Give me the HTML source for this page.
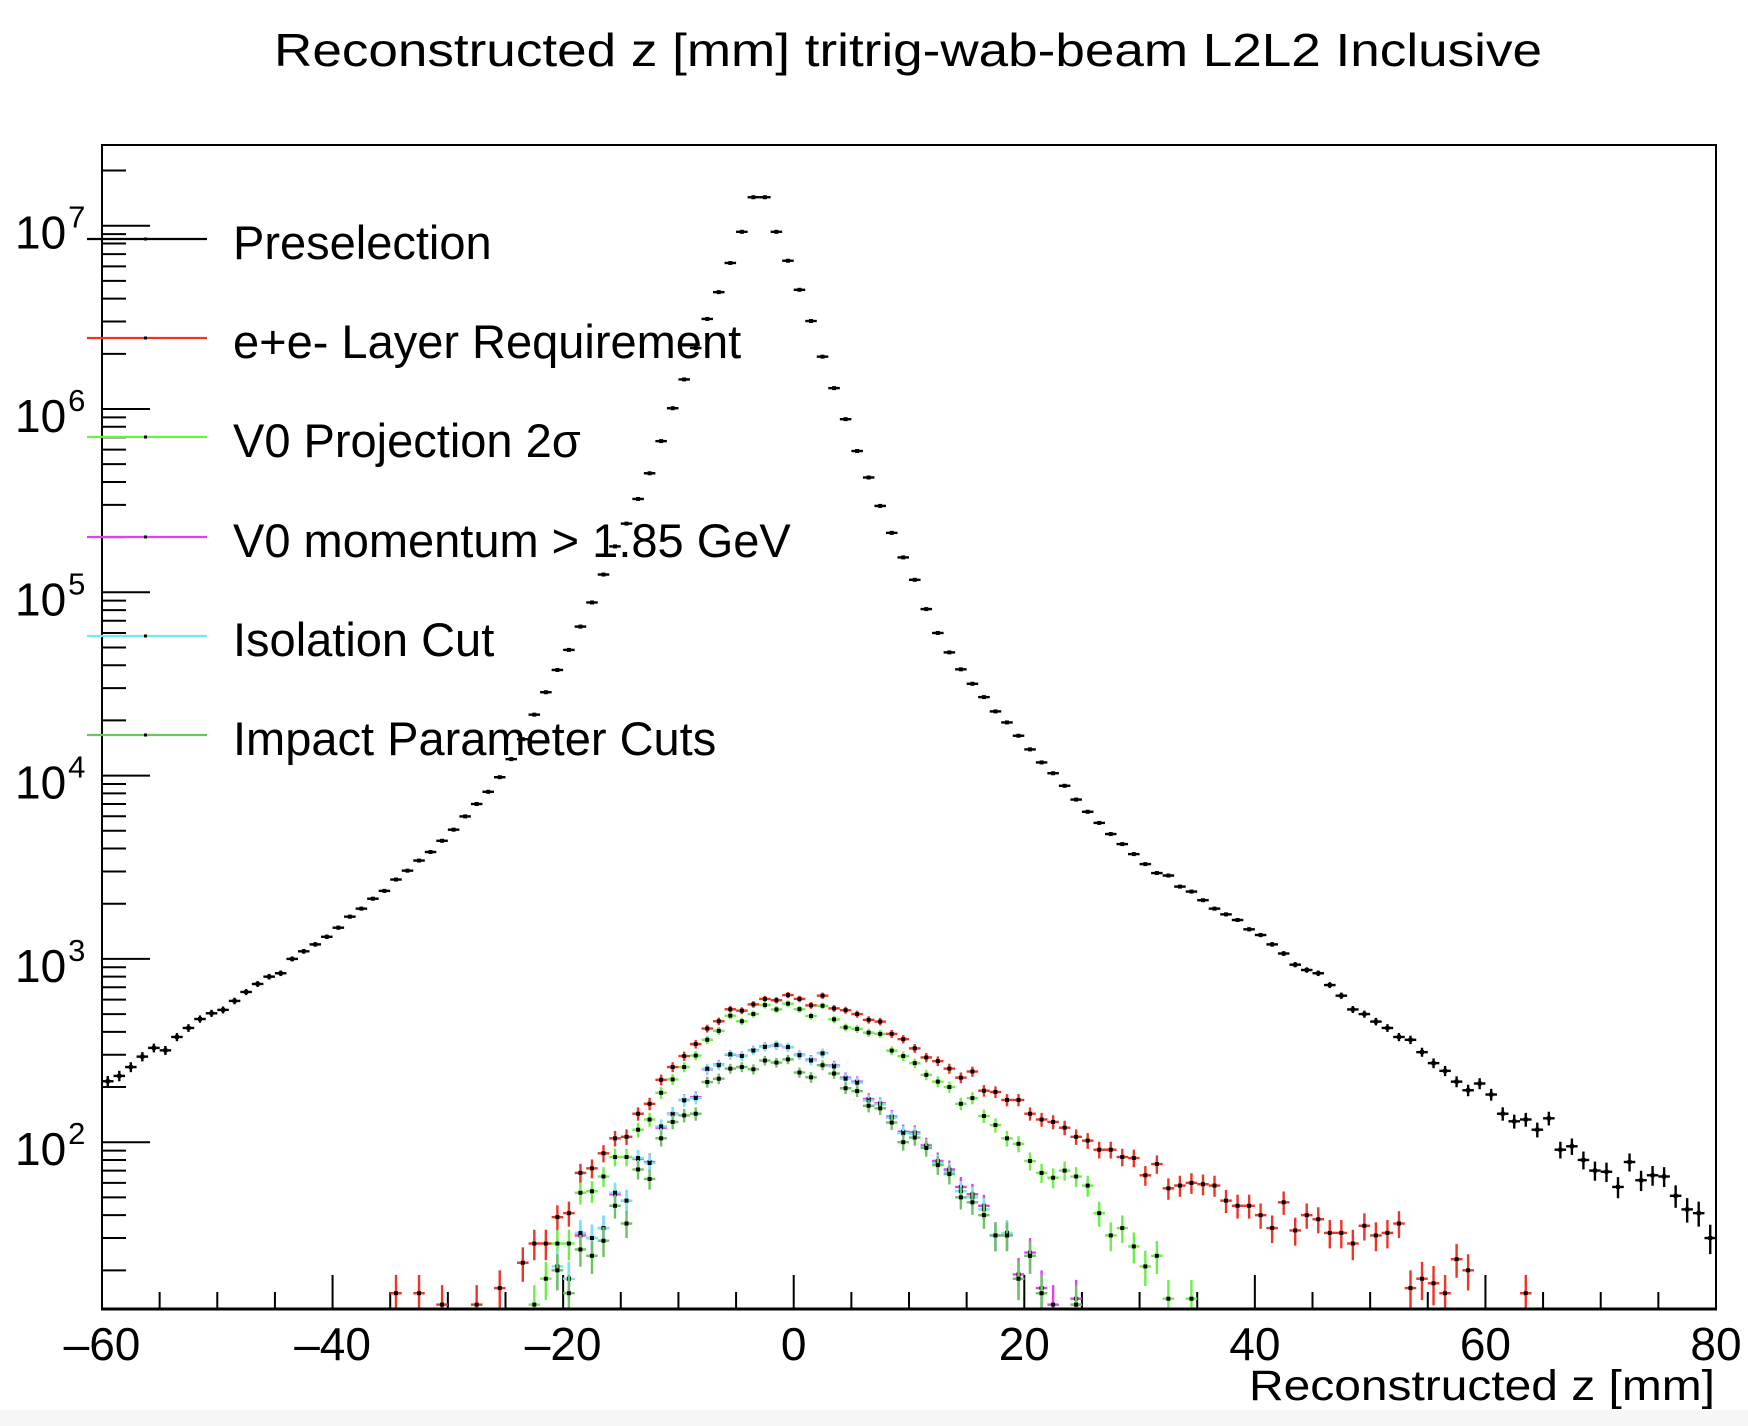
<!DOCTYPE html>
<html><head><meta charset="utf-8"><style>
html,body{margin:0;padding:0;background:#fff;}
svg{display:block;font-family:"Liberation Sans",Arial,sans-serif;}
</style></head><body>
<svg id="chart" width="1748" height="1426" viewBox="0 0 1748 1426" xmlns="http://www.w3.org/2000/svg">
<rect x="0" y="0" width="1748" height="1426" fill="#fff"/>
<rect x="0" y="1410" width="1748" height="16" fill="#f6f6f6"/>
<defs><clipPath id="plotclip"><rect x="102" y="145" width="1614" height="1164"/></clipPath></defs>
<text x="908" y="66" font-size="46" text-anchor="middle" textLength="1268" lengthAdjust="spacingAndGlyphs">Reconstructed z [mm] tritrig-wab-beam L2L2 Inclusive</text>
<g id="axes"></g>
<g id="series" clip-path="url(#plotclip)"></g>
<rect x="102" y="145" width="1614" height="1164" fill="none" stroke="#000" stroke-width="2"/>
<line x1="101" y1="1309" x2="1717" y2="1309" stroke="#000" stroke-width="3"/>
<text x="1715" y="1400" font-size="43" text-anchor="end" textLength="466" lengthAdjust="spacingAndGlyphs">Reconstructed z [mm]</text>
<g id="legend"></g>
</svg>
<script>
const binStart = -60;
const blackVals = [215,230,257,293,327,317,375,420,470,505,527,590,660,730,800,835,1000,1100,1200,1320,1480,1700,1880,2130,2350,2710,3030,3440,3830,4410,5070,5990,7000,8160,9800,12300,15800,21500,28500,37700,48500,65000,88000,125000,178000,237000,323000,446000,668000,1010000,1450000,2150000,3100000,4340000,6260000,9260000,14300000,14300000,9260000,6440000,4470000,3020000,1930000,1300000,880000,590000,423000,296000,211000,155000,117000,81000,60000,47000,38000,31700,26800,22400,19500,16500,13900,11800,10300,8800,7400,6350,5520,4800,4230,3730,3290,2940,2850,2480,2330,2090,1880,1750,1630,1450,1350,1200,1070,930,870,835,720,630,530,500,455,420,375,362,310,270,245,214,192,209,182,143,130,133,117,135,91,95,80,70,69,57,78,62,66,65,51,43,41,30];
const redVals = [0,0,0,0,0,0,0,0,0,0,0,0,0,0,0,0,0,0,0,0,0,0,0,0,0,15,0,15,0,13,0,0,13,0,16,0,22,28,28,39,41,68,72,87,105,107,143,162,219,257,295,343,417,457,531,522,565,605,595,635,605,558,630,537,525,500,465,455,390,365,325,290,277,252,225,243,191,188,170,170,143,133,129,120,107,102,91,91,83,82,66,76,56,58,60,59,58,48,45,45,40,34,47,33,40,38,32,32,28,35,31,32,36,16,18,17,15,23,20,0,0,0,0,15,0,0,0,0,0,0,0,0,0,0,0,0,0,0,0,0];
const v0projVals = [0,0,0,0,0,0,0,0,0,0,0,0,0,0,0,0,0,0,0,0,0,0,0,0,0,0,0,0,0,0,0,0,0,0,0,0,0,13,18,28,28,53,54,65,83,83,117,133,186,220,257,297,362,405,490,457,500,560,530,570,532,488,555,468,423,415,396,390,316,295,270,233,214,200,162,174,139,124,105,98,79,68,64,70,65,58,41,31,34,27,21,24,14,0,14,0,0,0,0,0,0,0,0,0,0,0,0,0,0,0,0,0,0,0,0,0,0,0,0,0,0,0,0,0,0,0,0,0,0,0,0,0,0,0,0,0];
const momVals = [0,0,0,0,0,0,0,0,0,0,0,0,0,0,0,0,0,0,0,0,0,0,0,0,0,0,0,0,0,0,0,0,0,0,0,0,0,0,0,20,18,31,30,34,52,48,81,78,120,143,170,176,250,265,300,296,318,333,338,330,300,282,306,262,225,214,172,163,138,114,113,96,79,71,57,52,45,31,31,19,25,16,13,0,14,0,0,0,0,0,0,0,0,0,0,0,0,0,0,0,0,0,0,0,0,0,0,0,0,0,0,0,0,0,0,0,0,0,0,0,0,0,0,0,0,0,0,0,0,0,0,0,0,0];
const isoVals = [0,0,0,0,0,0,0,0,0,0,0,0,0,0,0,0,0,0,0,0,0,0,0,0,0,0,0,0,0,0,0,0,0,0,0,0,0,0,0,21,18,32,30,34,53,48,82,77,122,142,169,174,252,263,302,295,316,331,340,331,298,279,305,259,222,211,169,161,136,112,111,94,77,69,54,50,43,31,32,18,24,15,0,0,13,0,0,0,0,0,0,0,0,0,0,0,0,0,0,0,0,0,0,0,0,0,0,0,0,0,0,0,0,0,0,0,0,0,0,0,0,0,0,0,0,0,0,0,0,0,0,0,0,0];
const ipVals = [0,0,0,0,0,0,0,0,0,0,0,0,0,0,0,0,0,0,0,0,0,0,0,0,0,0,0,0,0,0,0,0,0,0,0,0,0,0,0,20,15,26,24,29,45,36,71,63,105,129,140,143,213,222,252,257,250,279,272,283,240,226,263,237,197,190,158,153,128,100,106,93,75,67,50,47,40,31,31,18,24,15,0,0,13,0,0,0,0,0,0,0,0,0,0,0,0,0,0,0,0,0,0,0,0,0,0,0,0,0,0,0,0,0,0,0,0,0,0,0,0,0,0,0,0,0,0,0,0,0,0,0,0,0];
const xTickLabels = ["\u201360","\u201340","\u201320","0","20","40","60","80"];
const xTickValues = [-60,-40,-20,0,20,40,60,80];
const yDecades = [2,3,4,5,6,7];
const legendLabels = ["Preselection","e+e- Layer Requirement","V0 Projection 2\u03C3","V0 momentum > 1.85 GeV","Isolation Cut","Impact Parameter Cuts"];

const NS = "http://www.w3.org/2000/svg";
const X0 = 102, X1 = 1716, XMIN = -60, XMAX = 80;
const Y7 = 225.7, DEC = 183.3, YTOP = 145, YBOT = 1309;
function xs(v){ return X0 + (v - XMIN) / (XMAX - XMIN) * (X1 - X0); }
function ys(v){ return Y7 + (7 - Math.log10(v)) * DEC; }
function mk(tag, attrs, parent){ const e = document.createElementNS(NS, tag); for (const k in attrs) e.setAttribute(k, attrs[k]); parent.appendChild(e); return e; }

const axes = document.getElementById('axes');
for (let v = XMIN; v <= XMAX; v += 5) {
  const major = (v % 20 === 0);
  const t = mk('line', {x1: xs(v), x2: xs(v), y1: YBOT, y2: YBOT - (major ? 34 : 17), stroke: '#000', 'stroke-width': 2}, axes);
  
  
}
xTickValues.forEach((v, k) => {
  const t = mk('text', {x: xs(v), y: 1360, 'font-size': 46, 'text-anchor': 'middle'}, axes);
  t.textContent = xTickLabels[k];
  
  
});
for (let d = 1; d <= 7; d++) {
  for (let m = 1; m <= 9; m++) {
    const val = m * Math.pow(10, d);
    const y = ys(val);
    if (y < YTOP || y > YBOT) continue;
    const major = (m === 1);
    const t = mk('line', {x1: X0, x2: X0 + (major ? 48 : 24), y1: y, y2: y, stroke: '#000', 'stroke-width': 2}, axes);
    
    
  }
}
yDecades.forEach(d => {
  const y = ys(Math.pow(10, d));
  const t = mk('text', {x: 15, y: y + 23, 'font-size': 46}, axes);
  t.textContent = '10';
  
  
  const s = mk('tspan', {dx: 2, dy: -21, 'font-size': 31}, t);
  s.textContent = String(d);
});

const seriesG = document.getElementById('series');
const seriesList = [
  {name: 'preselection', vals: blackVals, color: '#000000'},
  {name: 'layer-requirement', vals: redVals, color: '#ee3426'},
  {name: 'v0-projection', vals: v0projVals, color: '#6cf046'},
  {name: 'v0-momentum', vals: momVals, color: '#e040ee'},
  {name: 'isolation-cut', vals: isoVals, color: '#70e8f8'},
  {name: 'impact-parameter', vals: ipVals, color: '#6cc460'}
];
seriesList.forEach(s => {
  const g = mk('g', {}, seriesG);
  
  
  s.vals.forEach((v, i) => {
    if (!(v > 0)) return;
    const lo = binStart + i, hi = lo + 1, c = lo + 0.5;
    const err = Math.sqrt(v);
    const y = ys(v);
    const yHi = ys(v + err);
    const yLo = (v - err) > 0.5 ? ys(v - err) : YBOT + 50;
    const p = mk('g', {}, g);
    
    
    mk('line', {x1: xs(c), x2: xs(c), y1: yHi, y2: yLo, stroke: s.color, 'stroke-width': 2.4}, p);
    mk('line', {x1: xs(lo), x2: xs(hi), y1: y, y2: y, stroke: s.color, 'stroke-width': 2.4}, p);
    mk('rect', {x: xs(c) - 2, y: y - 2, width: 4, height: 4, fill: '#000'}, p);
  });
});

const legend = document.getElementById('legend');
const legendY = [239, 338, 437, 537, 636, 735];
seriesList.forEach((s, k) => {
  const g = mk('g', {}, legend);
  
  
  mk('line', {x1: 87, x2: 207, y1: legendY[k], y2: legendY[k], stroke: s.color, 'stroke-width': 2.2}, g);
  mk('rect', {x: 144, y: legendY[k] - 1.5, width: 3, height: 3, fill: '#000'}, g);
  const t = mk('text', {x: 233, y: legendY[k] + 20, 'font-size': 47}, g);
  t.textContent = legendLabels[k];
});
</script>
</body></html>
